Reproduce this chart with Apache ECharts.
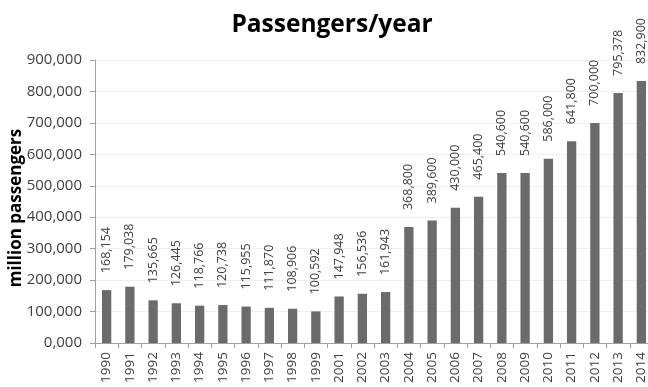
<!DOCTYPE html>
<html>
<head>
<meta charset="utf-8">
<script src="https://cdn.jsdelivr.net/npm/echarts@6/dist/echarts.min.js"></script>
<style>
  html, body { margin: 0; padding: 0; background: #fff; }
  #chart { width: 648px; height: 387px; }
</style>
</head>
<body>
<div id="chart"></div>
<script>
// years shown on the axis (2000 is missing in the source)
const years = ['1990','1991','1992','1993','1994','1995','1996','1997','1998','1999',
  '2001','2002','2003','2004','2005','2006','2007','2008','2009','2010','2011','2012','2013','2014'];
const passengers = [168154, 179038, 135665, 126445, 118766, 120738, 115955, 111870, 108906, 100592,
  147948, 156536, 161943, 368800, 389600, 430000, 465400, 540600, 540600, 586000, 641800, 700000, 795378, 832900];
const yTicks = [0, 100000, 200000, 300000, 400000, 500000, 600000, 700000, 800000, 900000];

function fmt(v) {
  if (v === 0) return '0,000';
  return v.toLocaleString('en-US');
}

const chart = echarts.init(document.getElementById('chart'));
const txt = '#404040';
const axisCol = '#a0a0a0';

chart.setOption({
  animation: false,
  title: {
    text: 'Passengers/year',
    left: 327,
    textAlign: 'center',
    top: 8,
    textStyle: { fontFamily: 'Open Sans', fontWeight: 'bold', fontSize: 24.5, color: '#000' }
  },
  grid: { left: 95, right: -5, top: 60, bottom: 44, outerBoundsMode: 'none' },
  xAxis: {
    type: 'category',
    data: years,
    axisLine: { lineStyle: { color: axisCol } },
    axisTick: { show: true, length: 5, lineStyle: { color: axisCol } },
    axisLabel: { rotate: 90, fontSize: 13.5, color: txt, fontFamily: 'Open Sans', margin: 9, interval: 0 }
  },
  yAxis: {
    type: 'value',
    min: yTicks[0],
    max: yTicks[yTicks.length - 1],
    interval: 100000,
    name: 'million passengers',
    nameLocation: 'middle',
    nameGap: 70,
    nameMoveOverlap: false,
    nameTextStyle: { fontFamily: 'Open Sans', fontWeight: 'bold', fontSize: 17, color: '#000', padding: [0, 13, 0, 0] },
    axisLine: { show: true, lineStyle: { color: axisCol } },
    axisTick: { show: true, length: 5, lineStyle: { color: axisCol } },
    axisLabel: { formatter: fmt, fontSize: 15, color: txt, fontFamily: 'Open Sans', margin: 13 },
    splitLine: { lineStyle: { color: '#f0f0f0' } }
  },
  series: [{
    type: 'bar',
    data: passengers,
    barWidth: '40%',
    itemStyle: { color: '#6b6b6b' },
    label: {
      show: true,
      position: 'top',
      rotate: 90,
      align: 'left',
      verticalAlign: 'middle',
      distance: 17,
      formatter: p => fmt(p.value),
      fontSize: 12.5,
      fontFamily: 'Open Sans',
      color: txt
    }
  }]
});
</script>
</body>
</html>
